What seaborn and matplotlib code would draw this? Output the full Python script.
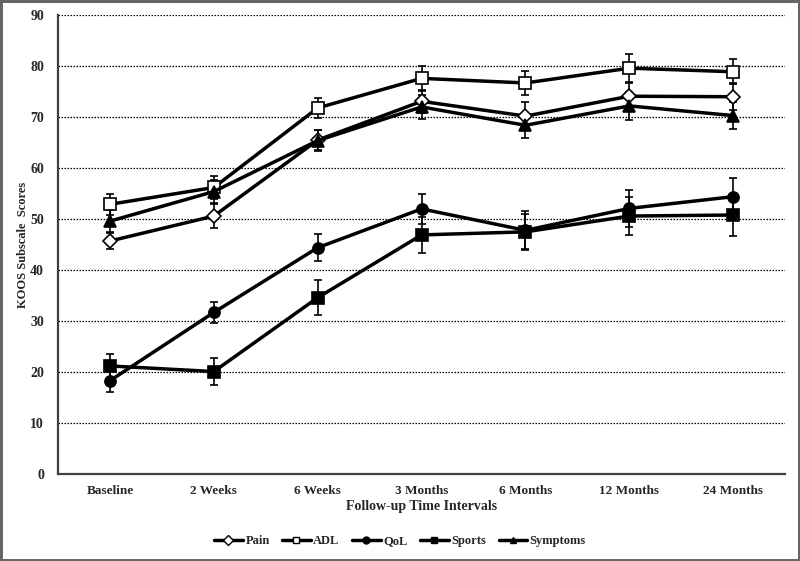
import numpy as np
import pandas as pd
import matplotlib
matplotlib.use("Agg")
import matplotlib.pyplot as plt
from matplotlib.lines import Line2D
import seaborn as sns

intervals = ["Baseline", "2 Weeks", "6 Weeks", "3 Months", "6 Months", "12 Months", "24 Months"]

pain = [45.7, 50.6, 65.5, 73.1, 70.2, 74.1, 74.0]
pain_err = [1.5, 2.3, 2.0, 2.2, 2.8, 2.6, 2.6]
adl = [52.9, 56.2, 71.8, 77.6, 76.7, 79.6, 78.9]
adl_err = [2.0, 2.3, 2.0, 2.5, 2.4, 2.7, 2.5]
qol = [18.3, 31.7, 44.4, 52.0, 47.8, 52.1, 54.4]
qol_err = [2.2, 2.1, 2.6, 2.9, 3.7, 3.6, 3.6]
sports = [21.2, 20.1, 34.6, 46.9, 47.5, 50.6, 50.8]
sports_err = [2.4, 2.7, 3.4, 3.6, 3.5, 3.7, 4.1]
symptoms = [49.6, 55.4, 65.4, 72.0, 68.4, 72.2, 70.3]
symptoms_err = [2.1, 2.3, 2.0, 2.4, 2.4, 2.7, 2.7]

series = {
    "Pain": (pain, pain_err, "D", "white"),
    "ADL": (adl, adl_err, "s", "white"),
    "QoL": (qol, qol_err, "o", "black"),
    "Sports": (sports, sports_err, "s", "black"),
    "Symptoms": (symptoms, symptoms_err, "^", "black"),
}

rows = []
for name, (vals, errs, m, fc) in series.items():
    for i, (v, e) in enumerate(zip(vals, errs)):
        rows.append({"pos": i, "interval": intervals[i], "score": v, "err": e, "scale": name})
df = pd.DataFrame(rows)

sns.set_style("white")
plt.rcParams["font.family"] = ["Liberation Serif", "DejaVu Serif"]
plt.rcParams["font.weight"] = "bold"

fig = plt.figure(figsize=(8, 5.61), dpi=100, linewidth=2.5, edgecolor="#666666")
ax = fig.add_axes([0.0725, 0.155, 0.909, 0.818])

for y in range(10, 100, 10):
    ax.axhline(y, color="black", linestyle=(0, (1.2, 1.2)), linewidth=0.9, zorder=0)

handles = []
for name, (vals, errs, m, fc) in series.items():
    sub = df[df["scale"] == name]
    ax.errorbar(sub["pos"], sub["score"], yerr=sub["err"], fmt="none",
                ecolor="black", elinewidth=1.2, capsize=3, capthick=1.2, zorder=2)
    ms = 8 if m != "D" else 7
    sns.lineplot(data=sub, x="pos", y="score", ax=ax, color="black", linewidth=2.5,
                 marker=m, markersize=ms, markerfacecolor=fc, markeredgecolor="black",
                 markeredgewidth=1.2, zorder=3, legend=False)
    handles.append(Line2D([0], [0], color="black", linewidth=2.5, marker=m,
                          markersize=5, markerfacecolor=fc, markeredgecolor="black",
                          markeredgewidth=1.0, label=name))

ax.set_xlim(-0.5, 6.5)
ax.set_ylim(0, 90)
ax.set_yticks(range(0, 100, 10))
ax.set_xticks(range(len(intervals)))
ax.set_xticklabels(intervals, fontsize=9.5, fontweight="bold")
ax.set_xticks(np.arange(-0.5, 7, 1), minor=True)
ax.tick_params(axis="x", which="major", length=0, pad=8)
ax.tick_params(axis="x", which="minor", length=4, width=1.2, direction="out", color="#404040")
ax.tick_params(axis="y", length=4, width=1.2, direction="out", color="#404040", labelsize=10, pad=6)
for lbl in ax.get_yticklabels():
    lbl.set_fontweight("bold")

for s in ["top", "right"]:
    ax.spines[s].set_visible(False)
for s in ["left", "bottom"]:
    ax.spines[s].set_color("#404040")
    ax.spines[s].set_linewidth(1.6)

ax.set_xlabel("Follow-up Time Intervals", fontsize=10, fontweight="bold", labelpad=2)
ax.set_ylabel("KOOS Subscale  Scores", fontsize=9, fontweight="bold")
ax.yaxis.set_label_coords(-0.04, 0.5)

fig.legend(handles=handles, loc="center", bbox_to_anchor=(0.5, 0.035), ncol=5,
           frameon=False, handlelength=2.3, handletextpad=0.2,
           columnspacing=1.0, prop={"weight": "bold", "size": 9})

fig.savefig("out.png", dpi=100, edgecolor=fig.get_edgecolor())
